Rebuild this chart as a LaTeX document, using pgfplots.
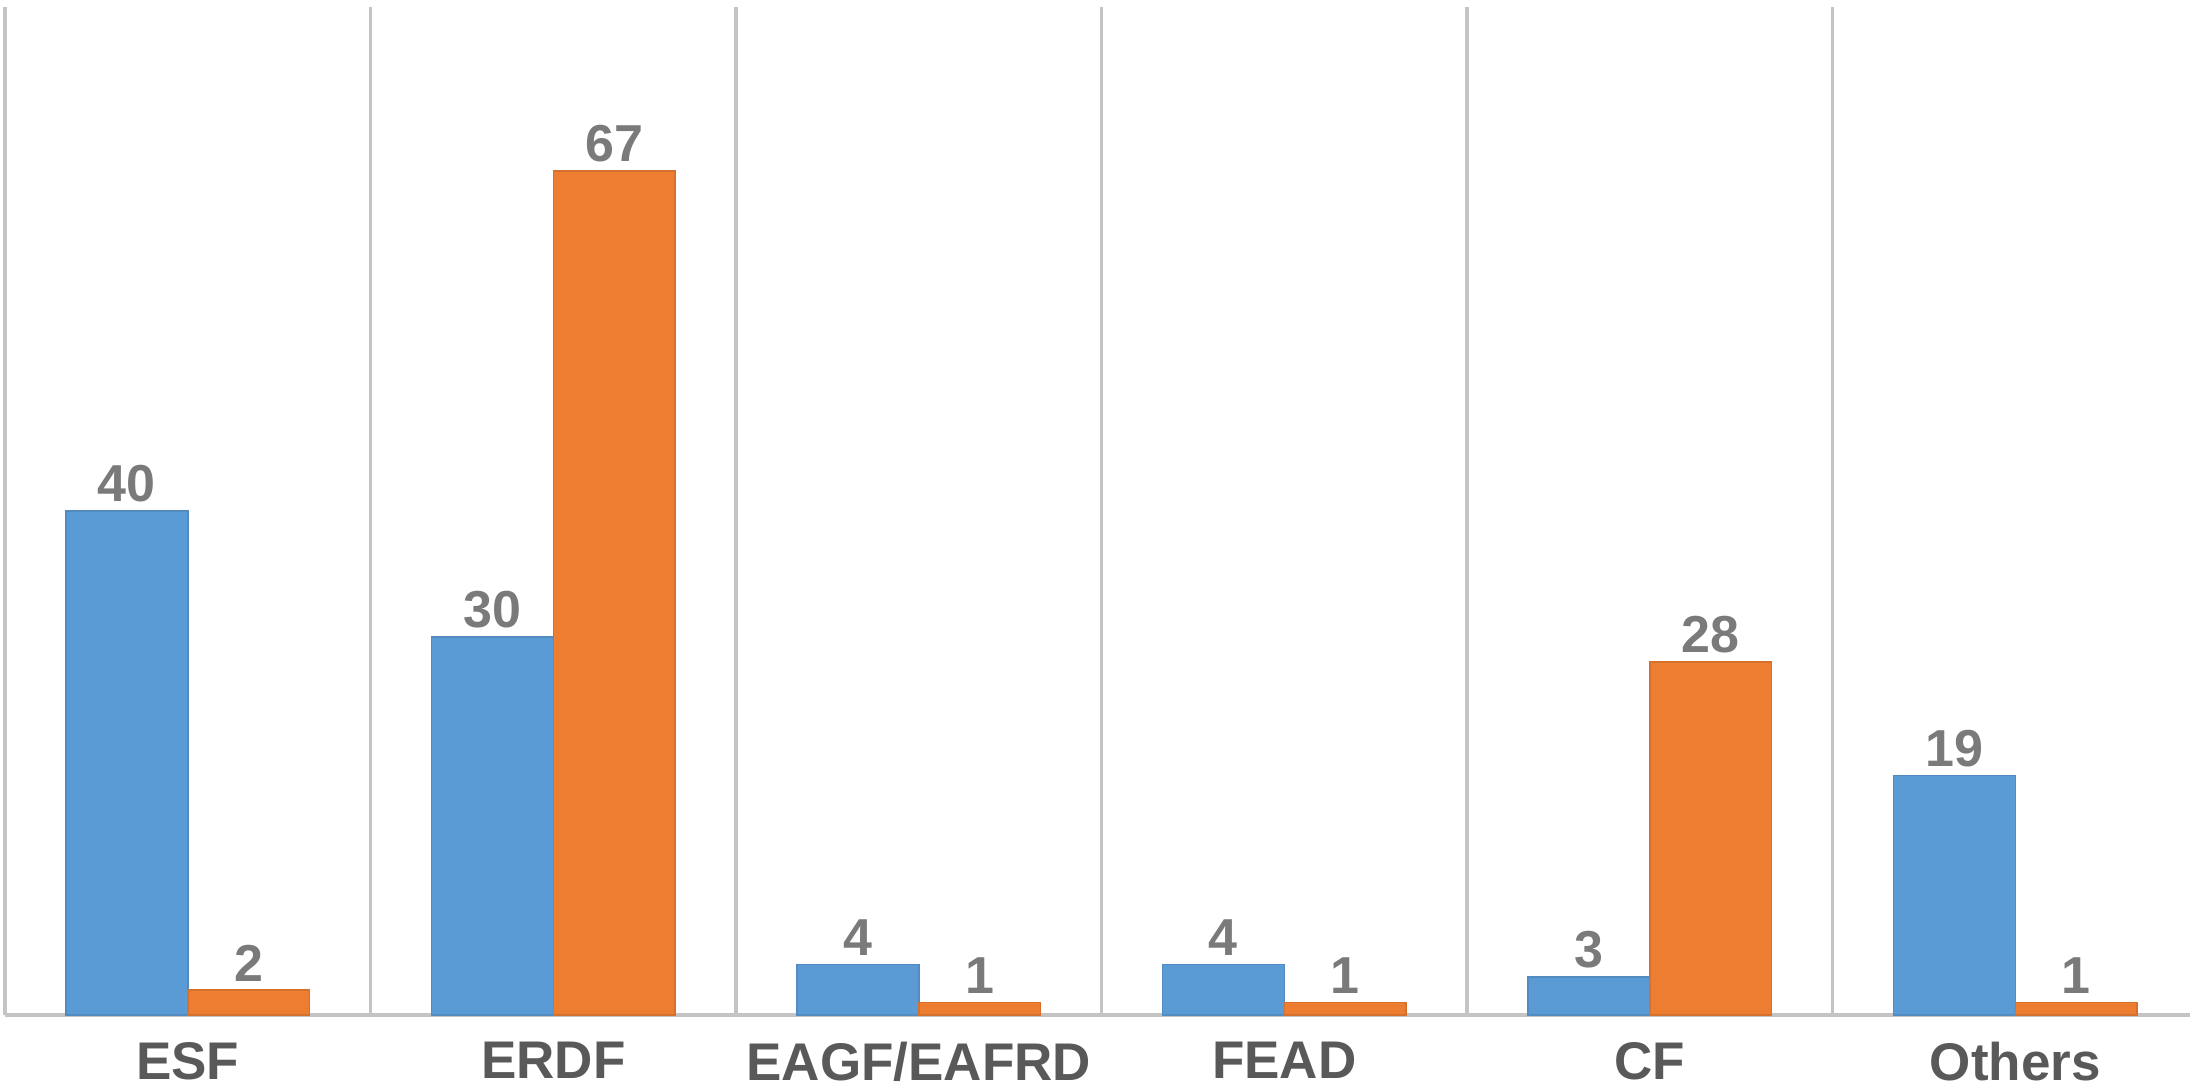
\documentclass[border=0pt]{standalone}
\usepackage{fontspec}
\setmainfont{Liberation Sans}
\usepackage{pgfplots}
\pgfplotsset{compat=1.18}
\definecolor{barblue}{HTML}{5B9BD5}
\definecolor{barorange}{HTML}{ED7D31}
\definecolor{catgray}{HTML}{595959}
\definecolor{valgray}{HTML}{7A7A7A}
\definecolor{linegray}{HTML}{C4C4C4}
\begin{document}
\begin{tikzpicture}
\begin{axis}[
  scale only axis, width=437pt, height=201.6pt,
  xmin=-0.5, xmax=5.478, ymin=0, ymax=80,
  ybar=0pt, bar width=0.3333,
  axis line style={draw=none},
  xtick={0,...,5},
  xticklabels={ESF,ERDF,EAGF/EAFRD,FEAD,CF,Others},
  major tick length=0pt,
  ytick=\empty,
  xticklabel style={font=\fontsize{10.6}{12}\selectfont\bfseries, text=catgray,
    inner sep=0pt, anchor=north, yshift=-5.3pt},
  extra x ticks={-0.5,0.5,1.5,2.5,3.5,4.5},
  extra x tick labels={},
  extra x tick style={grid=major, major grid style={linegray, line width=0.65pt}},
  extra y ticks={0},
  extra y tick labels={},
  extra y tick style={grid=major, major grid style={linegray, line width=0.9pt}},
  nodes near coords,
  every node near coord/.append style={font=\fontsize{10.4}{12}\selectfont\bfseries,
    text=valgray, inner sep=0pt, anchor=south, yshift=1.6pt},
  /pgf/number format/assume math mode=true,
]
% Blue series
\addplot[fill=barblue, draw=barblue!90!black, line width=0.3pt]
  coordinates {(0,40) (1,30) (2,4) (3,4) (4,3) (5,19)};
% Orange series
\addplot[fill=barorange, draw=barorange!90!black, line width=0.3pt]
  coordinates {(0,2) (1,67) (2,1) (3,1) (4,28) (5,1)};
\end{axis}
\pgfresetboundingbox
\useasboundingbox (-1pt,-14.4pt) rectangle (437pt,203pt);
\end{tikzpicture}
\end{document}
